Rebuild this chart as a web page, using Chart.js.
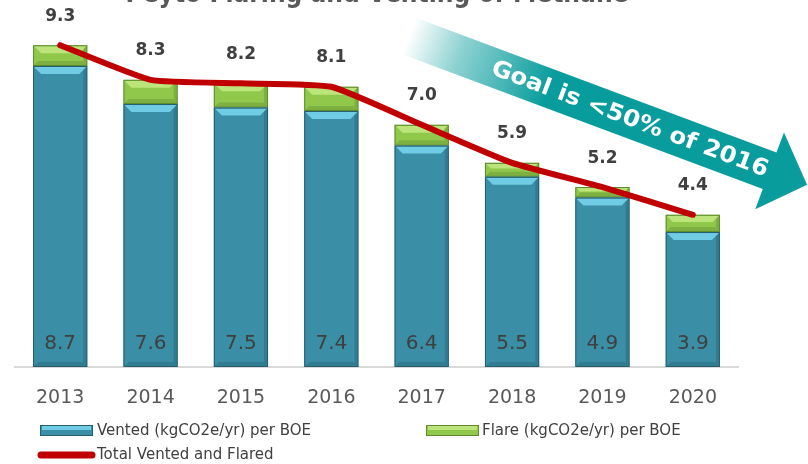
<!DOCTYPE html>
<html lang="en">
<head>
<meta charset="UTF-8">
<title>Peyto Flaring and Venting of Methane</title>
<script src="https://cdn.jsdelivr.net/npm/chart.js"></script>
<style>
    html, body { margin: 0; padding: 0; background: #fff; }
    .chart-container { position: relative; width: 808px; height: 464px; }
</style>
</head>
<body>
<div class="chart-container">
    <canvas id="ventChart" width="808" height="464"></canvas>
</div>
<script>
    // data
    const years = ['2013', '2014', '2015', '2016', '2017', '2018', '2019', '2020'];
    const vented = [8.7, 7.6, 7.5, 7.4, 6.4, 5.5, 4.9, 3.9];
    const flare = [0.6, 0.7, 0.7, 0.7, 0.6, 0.4, 0.3, 0.5];
    const totals = [9.3, 8.3, 8.2, 8.1, 7.0, 5.9, 5.2, 4.4];

    const TEAL = '#3a8ea5', TEAL_LIGHT = '#6fcce4', TEAL_EDGE = '#245f6e';
    const GREEN = '#8fc84a', GREEN_LIGHT = '#bbe57a', GREEN_EDGE = '#5f8a2e';
    const RED = '#c00000';
    const FONT = "'DejaVu Sans', Verdana, sans-serif";

    // bevel look of the bars
    function bevel(ctx, el, light, edge) {
        const p = el.getProps(['x', 'y', 'base', 'width'], true);
        const l = p.x - p.width / 2 + 1, r = p.x + p.width / 2 - 1;
        const t = Math.min(p.y, p.base) + 1, b = Math.max(p.y, p.base) - 1;
        const d = Math.min(7, (b - t) / 2.5);
        ctx.save();
        ctx.fillStyle = light;
        ctx.beginPath();
        ctx.moveTo(l, t); ctx.lineTo(r, t); ctx.lineTo(r - d, t + d); ctx.lineTo(l + d, t + d);
        ctx.closePath(); ctx.fill();
        ctx.fillStyle = 'rgba(0,0,0,0.12)';
        ctx.beginPath();
        ctx.moveTo(r, t); ctx.lineTo(r, b); ctx.lineTo(r - 3, b - 3); ctx.lineTo(r - 3, t + 3);
        ctx.closePath(); ctx.fill();
        ctx.beginPath();
        ctx.moveTo(l, b); ctx.lineTo(r, b); ctx.lineTo(r - 4, b - 4); ctx.lineTo(l + 4, b - 4);
        ctx.closePath(); ctx.fill();
        ctx.strokeStyle = edge;
        ctx.lineWidth = 1;
        ctx.strokeRect(l - 0.5, t - 0.5, r - l + 1, b - t + 1);
        ctx.restore();
    }

    const decoPlugin = {
        id: 'deco',
        beforeDatasetsDraw(chart) {
            const ctx = chart.ctx;
            // goal arrow
            const ang = 20.5 * Math.PI / 180, len = 425, bodyH = 39, headW = 82, headL = 40;
            ctx.save();
            ctx.translate(409, 36);
            ctx.rotate(ang);
            const g = ctx.createLinearGradient(0, 0, 150, 0);
            g.addColorStop(0, 'rgba(8,156,156,0)');
            g.addColorStop(0.35, 'rgba(8,156,156,0.45)');
            g.addColorStop(1, 'rgba(8,156,156,1)');
            ctx.fillStyle = g;
            ctx.beginPath();
            ctx.moveTo(0, -bodyH / 2);
            ctx.lineTo(len - headL, -bodyH / 2);
            ctx.lineTo(len - headL, -headW / 2);
            ctx.lineTo(len, 0);
            ctx.lineTo(len - headL, headW / 2);
            ctx.lineTo(len - headL, bodyH / 2);
            ctx.lineTo(0, bodyH / 2);
            ctx.closePath();
            ctx.fill();
            ctx.fillStyle = '#fff';
            ctx.font = 'bold 23px ' + FONT;
            ctx.textAlign = 'center';
            ctx.textBaseline = 'middle';
            const txt = 'Goal is <50% of 2016';
            const w = ctx.measureText(txt).width;
            ctx.translate(236, 1);
            ctx.scale(294 / w, 1);
            ctx.fillText(txt, 0, 0);
            ctx.restore();
        },
        afterDatasetDraw(chart, args) {
            const meta = args.meta;
            if (meta.type !== 'bar') return;
            const isVented = args.index === 0;
            meta.data.forEach(el => bevel(chart.ctx, el,
                isVented ? TEAL_LIGHT : GREEN_LIGHT, isVented ? TEAL_EDGE : GREEN_EDGE));
        },
        afterDraw(chart) {
            const ctx = chart.ctx;
            const y = chart.scales.y;
            ctx.save();
            // title (cut off at the top)
            ctx.fillStyle = '#595959';
            ctx.font = 'bold 26px ' + FONT;
            ctx.textAlign = 'center';
            ctx.textBaseline = 'alphabetic';
            const title = 'Peyto Flaring and Venting of Methane';
            const tw = ctx.measureText(title).width;
            ctx.save();
            ctx.translate(377, 2);
            ctx.scale(503 / tw, 1);
            ctx.fillText(title, 0, 0);
            ctx.restore();

            // totals above the line
            const lineMeta = chart.getDatasetMeta(2);
            ctx.fillStyle = '#404040';
            ctx.font = 'bold 17px ' + FONT;
            ctx.textBaseline = 'middle';
            lineMeta.data.forEach((pt, i) => {
                ctx.fillText(totals[i].toFixed(1), pt.x, pt.y - 29);
            });

            // vented values at the bar foot
            const ventMeta = chart.getDatasetMeta(0);
            ctx.font = '20px ' + FONT;
            ctx.fillStyle = '#3f3f3f';
            ventMeta.data.forEach((bar, i) => {
                ctx.fillText(vented[i].toFixed(1), bar.x, y.getPixelForValue(0) - 23);
            });

            // legend
            ctx.textAlign = 'left';
            ctx.font = '15px ' + FONT;
            const swatch = (x, yy, fill, light, edge) => {
                ctx.fillStyle = fill;
                ctx.fillRect(x, yy, 53, 11);
                ctx.fillStyle = light;
                ctx.fillRect(x + 2, yy + 1, 49, 4);
                ctx.strokeStyle = edge;
                ctx.lineWidth = 1;
                ctx.strokeRect(x + 0.5, yy + 0.5, 52, 10);
            };
            swatch(40, 425, TEAL, TEAL_LIGHT, TEAL_EDGE);
            swatch(426, 425, GREEN, GREEN_LIGHT, GREEN_EDGE);
            ctx.strokeStyle = RED;
            ctx.lineWidth = 7;
            ctx.lineCap = 'round';
            ctx.beginPath();
            ctx.moveTo(41, 455); ctx.lineTo(92, 455);
            ctx.stroke();
            ctx.fillStyle = '#404040';
            ctx.fillText(chart.data.datasets[0].label, 97, 431);
            ctx.fillText(chart.data.datasets[1].label, 482, 431);
            ctx.fillText(chart.data.datasets[2].label, 97, 455);
            ctx.restore();
        }
    };

    const ctx = document.getElementById('ventChart').getContext('2d');
    new Chart(ctx, {
        type: 'bar',
        data: {
            labels: years,
            datasets: [
                {
                    label: 'Vented (kgCO2e/yr) per BOE',
                    data: vented,
                    backgroundColor: TEAL,
                    borderWidth: 0,
                    stack: 'bars',
                    order: 1
                },
                {
                    label: 'Flare (kgCO2e/yr) per BOE',
                    data: flare,
                    backgroundColor: GREEN,
                    borderWidth: 0,
                    stack: 'bars',
                    order: 1
                },
                {
                    type: 'line',
                    label: 'Total Vented and Flared',
                    data: totals,
                    borderColor: RED,
                    borderWidth: 6,
                    borderCapStyle: 'round',
                    borderJoinStyle: 'round',
                    pointRadius: 0,
                    tension: 0.15,
                    stack: 'line',
                    order: 0
                }
            ]
        },
        options: {
            responsive: false,
            devicePixelRatio: 1,
            animation: false,
            layout: { padding: { left: 15, right: 70, top: 21, bottom: 0 } },
            datasets: {
                bar: { categoryPercentage: 1, barPercentage: 0.6 }
            },
            plugins: {
                legend: { display: false },
                tooltip: { enabled: false }
            },
            scales: {
                x: {
                    stacked: true,
                    grid: { display: false, drawTicks: false },
                    border: { color: '#d9d9d9', width: 2 },
                    ticks: {
                        color: '#595959',
                        font: { family: FONT, size: 19 },
                        padding: 20,
                        maxRotation: 0
                    },
                    afterFit(scale) { scale.height = 97; }
                },
                y: {
                    display: false,
                    stacked: true,
                    min: 0,
                    max: 10
                }
            }
        },
        plugins: [decoPlugin]
    });
</script>
</body>
</html>
